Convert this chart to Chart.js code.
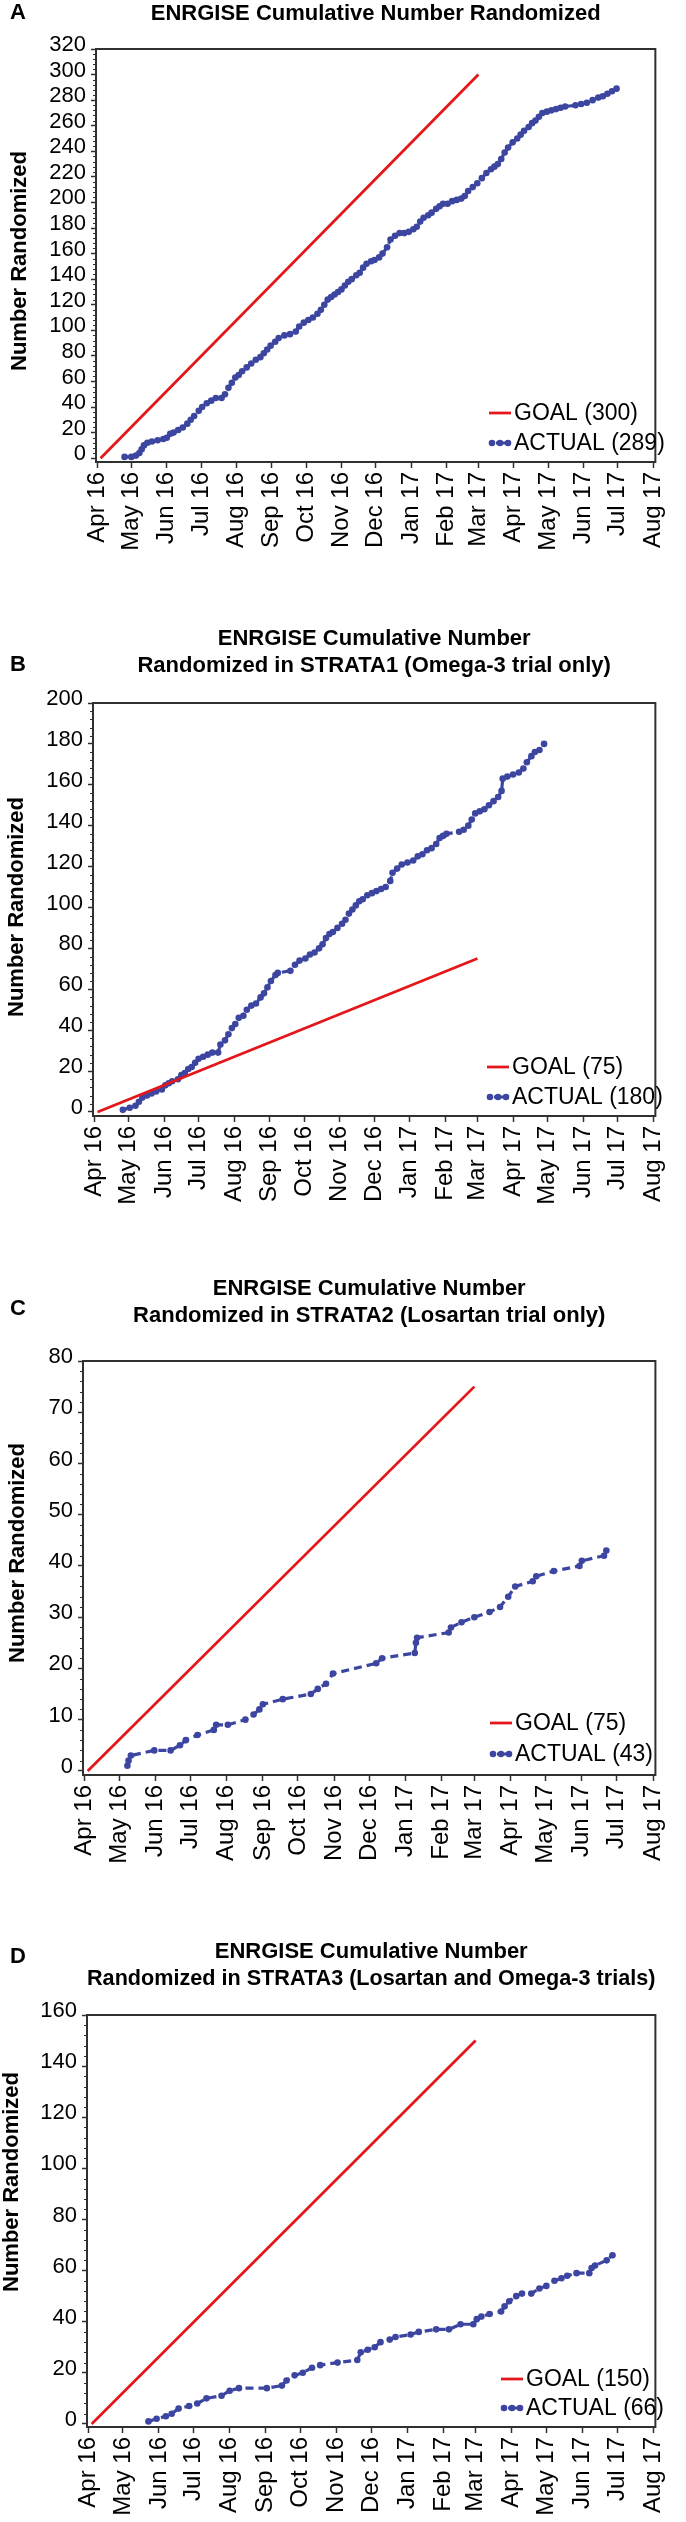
<!DOCTYPE html>
<html>
<head>
<meta charset="utf-8">
<title>ENRGISE Cumulative Number Randomized</title>
<script src="https://cdn.jsdelivr.net/npm/chart.js@4.4.1/dist/chart.umd.min.js"></script>
<style>
  body { margin: 0; background: #fff; }
  #page { position: relative; width: 686px; height: 2522px; overflow: hidden; }
  .panel { position: absolute; left: 0; width: 686px; }
  .panel canvas { display: block; }
  .letter {
    position: absolute;
    font: bold 22px 'Liberation Sans', Arial, sans-serif;
    color: #000;
    transform: translate(-50%, -50%);
  }
</style>
</head>
<body>
<div id="page">
  <div class="panel" style="top:0px;height:620px"><canvas id="chartA" width="686" height="620"></canvas></div>
  <div class="panel" style="top:620px;height:650px"><canvas id="chartB" width="686" height="650"></canvas></div>
  <div class="panel" style="top:1270px;height:662px"><canvas id="chartC" width="686" height="662"></canvas></div>
  <div class="panel" style="top:1932px;height:590px"><canvas id="chartD" width="686" height="590"></canvas></div>
  <div class="letter" style="left:18px;top:12px">A</div>
  <div class="letter" style="left:18px;top:664px">B</div>
  <div class="letter" style="left:18px;top:1308px">C</div>
  <div class="letter" style="left:18px;top:1956px">D</div>
</div>
<script>
// x values are days since 1 Apr 2016
const monthDays = [0, 30, 61, 91, 122, 153, 183, 214, 244, 275, 306, 334, 365, 395, 426, 456, 487];
const monthLabels = ['Apr 16', 'May 16', 'Jun 16', 'Jul 16', 'Aug 16', 'Sep 16', 'Oct 16', 'Nov 16',
  'Dec 16', 'Jan 17', 'Feb 17', 'Mar 17', 'Apr 17', 'May 17', 'Jun 17', 'Jul 17', 'Aug 17'];

// goal lines: start of April 2016 to 1 Mar 2017
const goalDays = [3, 334];
const goalA = [0, 300];
const goalB = [0, 75];
const goalC = [0, 75];
const goalD = [0, 150];

// A - all participants
const actualDaysA = [24,30,34,37,39,41,44,48,53,58,61,64,67,71,75,79,82,85,89,92,96,100,104,109,112,115,118,121,124,127,
  131,135,139,143,146,149,152,156,159,164,169,174,177,181,185,189,193,196,199,202,205,208,211,214,217,220,223,227,230,233,
  236,240,243,247,250,254,257,261,265,269,273,277,280,283,286,290,293,297,300,303,307,311,315,319,322,325,329,333,337,341,
  345,348,351,354,357,360,364,368,371,374,378,381,384,387,390,394,398,402,406,410,419,424,429,434,439,443,447,451,455];
const actualA = [1,1,2,4,7,10,12,13,14,15,16,19,20,22,24,27,30,33,37,40,43,45,47,47,50,55,59,63,65,68,
  71,74,77,79,82,85,88,91,94,96,97,99,103,106,108,110,113,116,120,124,126,128,130,132,135,138,140,143,145,149,
  152,154,155,157,160,165,171,174,176,176,177,179,181,185,188,190,192,195,197,199,199,201,202,203,205,209,212,215,219,223,
  226,228,230,234,239,243,247,250,253,256,259,262,264,267,270,271,272,273,274,275,276,277,278,280,282,283,285,287,289];

// B - STRATA1
const actualDaysB = [25,31,36,39,42,46,50,54,59,62,65,68,73,76,79,82,85,88,91,95,99,103,108,110,114,117,120,123,126,130,
  133,137,141,145,148,151,154,158,160,171,175,179,184,188,192,196,199,202,205,208,212,216,219,222,225,228,231,234,238,242,
  246,250,254,258,260,264,268,273,278,282,286,290,294,298,301,304,307,318,322,326,329,332,336,340,344,348,352,355,356,360,
  365,370,374,377,381,384,388,392];
const actualB = [1,2,3,5,7,8,9,10,11,13,14,15,16,18,19,21,22,24,26,27,28,29,29,33,35,38,41,43,46,47,
  50,52,53,56,58,61,64,67,68,69,72,74,75,77,78,80,82,85,87,88,90,92,94,97,99,101,103,104,106,107,
  108,109,110,113,117,119,121,122,123,125,126,128,129,131,134,135,136,137,138,140,143,146,147,148,150,152,154,157,163,164,
  165,166,168,171,174,176,177,180];

// C - STRATA2
const actualDaysC = [37,38,40,60,74,82,87,97,111,113,123,138,145,150,153,170,194,200,207,213,
  250,255,283,284,285,312,314,323,334,347,356,363,369,384,387,402,424,426,445,447];
const actualC = [1,2,3,4,4,5,6,7,8,9,9,10,11,12,13,14,15,16,17,19,
  21,22,23,25,26,27,28,29,30,31,32,34,36,37,38,39,40,41,42,43];

// D - STRATA3
const actualDaysD = [52,59,67,72,78,87,94,102,115,122,130,154,167,171,178,185,193,200,215,232,
  235,241,247,252,260,265,278,285,300,311,321,332,335,339,346,356,359,363,369,374,
  382,389,395,402,408,413,421,432,434,437,447,452];
const actualD = [1,2,3,4,6,7,8,10,11,13,14,14,15,17,19,20,22,23,24,25,
  28,29,30,32,33,34,35,36,37,37,39,39,41,42,43,44,46,48,50,51,
  51,53,54,56,57,58,59,59,61,62,64,66];

const yTicksA = [0, 20, 40, 60, 80, 100, 120, 140, 160, 180, 200, 220, 240, 260, 280, 300, 320];
const yTicksB = [0, 20, 40, 60, 80, 100, 120, 140, 160, 180, 200];
const yTicksC = [0, 10, 20, 30, 40, 50, 60, 70, 80];
const yTicksD = [0, 20, 40, 60, 80, 100, 120, 140, 160];

const red = 'rgb(228, 22, 26)';
const blue = 'rgb(60, 70, 160)';
const axisColor = '#303030';
const fontFamily = "'Liberation Sans', Arial, sans-serif";

Chart.defaults.font.family = fontFamily;
Chart.defaults.color = '#000';

function toPoints(xs, ys) {
  return xs.map((x, i) => ({ x: x, y: ys[i] }));
}

// box round the plot and small minor ticks on the y axis
const framePlugin = {
  id: 'frame',
  afterDraw(chart) {
    const { ctx, chartArea } = chart;
    const yScale = chart.scales.y;
    ctx.save();
    ctx.strokeStyle = axisColor;
    ctx.lineWidth = 2;
    ctx.setLineDash([]);
    ctx.strokeRect(chartArea.left, chartArea.top, chartArea.right - chartArea.left, chartArea.bottom - chartArea.top);
    ctx.lineWidth = 1;
    const t = yScale.ticks;
    for (let i = 0; i < t.length - 1; i++) {
      const step = (t[i + 1].value - t[i].value) / 5;
      for (let k = 1; k < 5; k++) {
        const py = Math.round(yScale.getPixelForValue(t[i].value + k * step)) + 0.5;
        ctx.beginPath();
        ctx.moveTo(chartArea.left - 3, py);
        ctx.lineTo(chartArea.left, py);
        ctx.stroke();
      }
    }
    ctx.restore();
  }
};

const sideTitlePlugin = {
  id: 'sideTitle',
  afterDraw(chart, args, opts) {
    const ctx = chart.ctx;
    ctx.save();
    ctx.translate(opts.x, opts.y);
    ctx.rotate(-Math.PI / 2);
    ctx.font = 'bold 22px ' + fontFamily;
    ctx.fillStyle = '#000';
    ctx.textAlign = 'center';
    ctx.textBaseline = 'middle';
    ctx.fillText(opts.text, 0, 0);
    ctx.restore();
  }
};

// legend drawn inside the plot, lower right
const insideLegendPlugin = {
  id: 'insideLegend',
  afterDraw(chart, args, opts) {
    const ctx = chart.ctx;
    ctx.save();
    chart.data.datasets.forEach((ds, i) => {
      const y = opts.rows[i];
      ctx.strokeStyle = ds.borderColor;
      ctx.lineWidth = ds.borderWidth;
      ctx.setLineDash(ds.pointRadius ? [4, 3] : []);
      ctx.beginPath();
      ctx.moveTo(opts.x, y);
      ctx.lineTo(opts.x + opts.width, y);
      ctx.stroke();
      if (ds.pointRadius) {
        ctx.fillStyle = ds.backgroundColor;
        [opts.x + 3, opts.x + opts.width / 2, opts.x + opts.width - 3].forEach(px => {
          ctx.beginPath();
          ctx.arc(px, y, ds.pointRadius, 0, Math.PI * 2);
          ctx.fill();
        });
      }
      ctx.setLineDash([]);
      ctx.fillStyle = '#000';
      ctx.font = '23px ' + fontFamily;
      ctx.textAlign = 'left';
      ctx.textBaseline = 'middle';
      ctx.fillText(ds.label, opts.textX, y + 1);
    });
    ctx.restore();
  }
};

function makeChart(canvasId, p) {
  return new Chart(document.getElementById(canvasId), {
    type: 'scatter',
    data: {
      datasets: [
        {
          label: p.goalLabel,
          data: toPoints(goalDays, p.goal),
          showLine: true,
          borderColor: red,
          backgroundColor: red,
          borderWidth: 2.75,
          pointRadius: 0,
          pointHoverRadius: 0
        },
        {
          label: p.actualLabel,
          data: toPoints(p.days, p.actual),
          showLine: true,
          borderColor: blue,
          backgroundColor: blue,
          borderWidth: 3.2,
          borderDash: [8, 5],
          pointRadius: 3.3,
          pointHoverRadius: 3.3,
          pointBorderWidth: 0
        }
      ]
    },
    options: {
      responsive: false,
      animation: false,
      events: [],
      layout: { padding: { left: 0, top: 0, bottom: 0, right: 686 - p.right } },
      plugins: {
        legend: { display: false },
        tooltip: { enabled: false },
        title: {
          display: true,
          text: p.title,
          fullSize: false,
          color: '#000',
          font: { size: 22, weight: 'bold', lineHeight: 27 / 22 },
          padding: { top: p.titleTop, bottom: p.titleBottom }
        },
        sideTitle: { text: 'Number Randomized', x: p.sideX, y: p.sideY },
        insideLegend: { x: p.legendX, width: 22, textX: p.legendX + 25, rows: p.legendRows }
      },
      scales: {
        x: {
          type: 'linear',
          min: -1,
          max: 489,
          afterBuildTicks: s => { s.ticks = monthDays.map(v => ({ value: v })); },
          afterFit: s => { s.height = p.xAxisHeight; },
          grid: { drawOnChartArea: false, drawTicks: true, tickLength: 6, tickColor: axisColor, tickWidth: 1.5 },
          border: { display: true, color: axisColor, width: 2 },
          ticks: {
            autoSkip: false,
            minRotation: 90,
            maxRotation: 90,
            padding: 4,
            color: '#000',
            font: { size: 24 },
            callback: (v, i) => monthLabels[i]
          }
        },
        y: {
          type: 'linear',
          min: p.yMin,
          max: p.yMax,
          afterBuildTicks: s => { s.ticks = p.yTicks.map(v => ({ value: v })); },
          afterFit: s => { s.width = p.left; },
          grid: { drawOnChartArea: false, drawTicks: true, tickLength: 5, tickColor: axisColor, tickWidth: 1.5 },
          border: { display: true, color: axisColor, width: 2 },
          ticks: {
            autoSkip: false,
            padding: 5,
            labelOffset: -4,
            color: '#000',
            font: { size: 22 },
            callback: v => String(v)
          }
        }
      }
    },
    plugins: [framePlugin, sideTitlePlugin, insideLegendPlugin]
  });
}

makeChart('chartA', {
  title: 'ENRGISE Cumulative Number Randomized',
  goal: goalA, days: actualDaysA, actual: actualA,
  goalLabel: 'GOAL (300)', actualLabel: 'ACTUAL (289)',
  yTicks: yTicksA, yMin: -3, yMax: 320,
  left: 96, right: 674, titleTop: 0, titleBottom: 22, xAxisHeight: 158,
  sideX: 20, sideY: 261, legendX: 489, legendRows: [413, 443]
});

makeChart('chartB', {
  title: ['ENRGISE Cumulative Number', 'Randomized in STRATA1 (Omega-3 trial only)'],
  goal: goalB, days: actualDaysB, actual: actualB,
  goalLabel: 'GOAL (75)', actualLabel: 'ACTUAL (180)',
  yTicks: yTicksB, yMin: -2, yMax: 200,
  left: 93, right: 672, titleTop: 5, titleBottom: 24, xAxisHeight: 154,
  sideX: 17, sideY: 287, legendX: 487, legendRows: [447, 477]
});

makeChart('chartC', {
  title: ['ENRGISE Cumulative Number', 'Randomized in STRATA2 (Losartan trial only)'],
  goal: goalC, days: actualDaysC, actual: actualC,
  goalLabel: 'GOAL (75)', actualLabel: 'ACTUAL (43)',
  yTicks: yTicksC, yMin: -0.8, yMax: 80,
  left: 83, right: 669, titleTop: 5, titleBottom: 32, xAxisHeight: 157,
  sideX: 18, sideY: 283, legendX: 490, legendRows: [453, 484]
});

makeChart('chartD', {
  title: ['ENRGISE Cumulative Number', 'Randomized in STRATA3 (Losartan and Omega-3 trials)'],
  goal: goalD, days: actualDaysD, actual: actualD,
  goalLabel: 'GOAL (150)', actualLabel: 'ACTUAL (66)',
  yTicks: yTicksD, yMin: -1.2, yMax: 160,
  left: 87, right: 668, titleTop: 6, titleBottom: 23, xAxisHeight: 95,
  sideX: 12, sideY: 250, legendX: 501, legendRows: [447, 476]
});
</script>
</body>
</html>
